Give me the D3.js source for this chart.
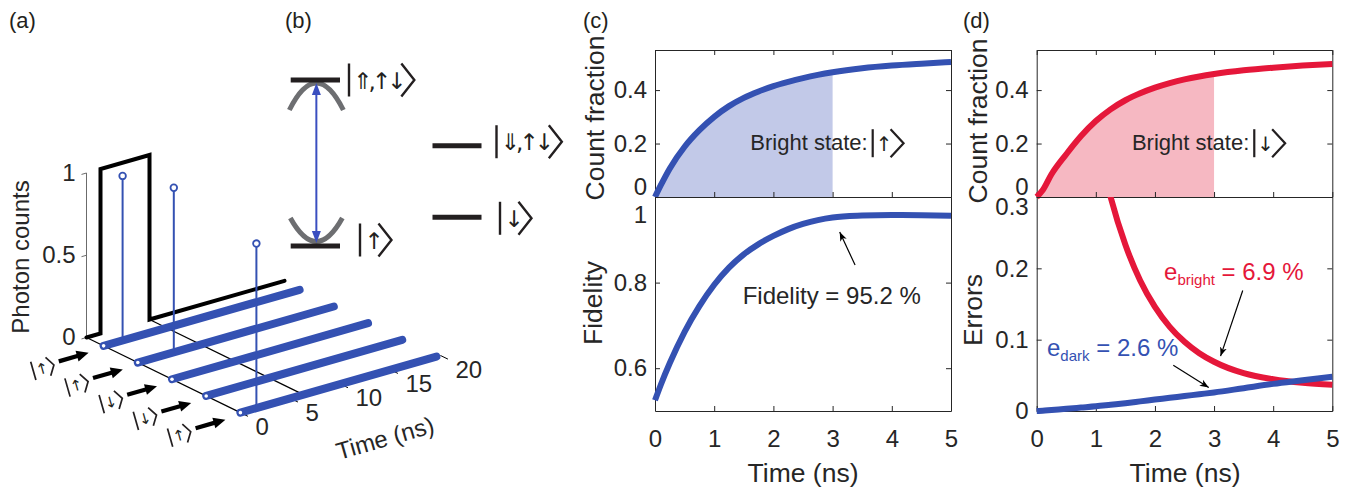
<!DOCTYPE html>
<html><head><meta charset="utf-8">
<script src="https://cdn.jsdelivr.net/npm/d3@7"></script>
<style>
html,body{margin:0;padding:0;background:#fff;}
svg{display:block;}
</style></head><body>
<svg id="fig" width="1352" height="487"></svg>
<script>
// ---------------- data ----------------
// (a) time-resolved photon counts for a sequence of prepared spin states
const rowStates = ["↑", "↑", "↓", "↓", "↑"];          // back row first
const pulseTime = [0, 1.4, 1.4, 6.3, 6.3, 19.8];     // ns, optical pulse trace
const pulseCounts = [0, 0, 1, 1, 0, 0];
const photonStems = [                                  // detected photons
  {row: 1, t: 1.9, counts: 1},
  {row: 2, t: 3.6, counts: 1},
  {row: 5, t: 1.6, counts: 1}
];
const rowEndTime = 19.6;
const floorGuides = [0, 6.3];
const timeTicksA = [0, 5, 10, 15, 20];
const countTicksA = [0, 0.5, 1];

// (b) energy levels
const levels = [
  {inner: "⇑,↑↓", energy: 1.0,   col: 0},
  {inner: "⇓,↑↓", energy: 0.604, col: 1},
  {inner: "↓",     energy: 0.173, col: 1},
  {inner: "↑",     energy: 0.0,   col: 0}
];

// (c),(d) readout curves vs integration time
const timeGrid      = [0, 0.1, 0.25, 0.5, 0.75, 1, 1.25, 1.5, 1.75, 2, 2.25, 2.5, 2.75, 3, 3.5, 4, 4.5, 5];
const countFracUp   = [0, 0.045, 0.107, 0.188, 0.25, 0.30, 0.34, 0.371, 0.395, 0.415, 0.431, 0.445, 0.457, 0.467, 0.482, 0.492, 0.499, 0.505];
const countFracDown = [0, 0.025, 0.085, 0.16, 0.228, 0.284, 0.328, 0.362, 0.388, 0.409, 0.426, 0.44, 0.451, 0.46, 0.474, 0.484, 0.492, 0.498];
const fidelity      = [0.525, 0.562, 0.612, 0.685, 0.745, 0.795, 0.835, 0.866, 0.890, 0.909, 0.925, 0.937, 0.946, 0.952, 0.9565, 0.958, 0.9575, 0.956];
const errBright     = [null, null, null, null, null, 0.389, 0.30, 0.233, 0.183, 0.146, 0.118, 0.097, 0.081, 0.069, 0.053, 0.0445, 0.0395, 0.0367];
const errDark       = [0, 0.0005, 0.0015, 0.003, 0.0048, 0.0066, 0.0088, 0.011, 0.0135, 0.016, 0.0185, 0.021, 0.0235, 0.026, 0.032, 0.038, 0.043, 0.048];
const readoutWindow = 3;      // ns, shaded integration window
const xTicksCD = [0, 1, 2, 3, 4, 5];
const yTicksCount = [0, 0.2, 0.4];
const yTicksFid = [0.6, 0.8, 1];
const yTicksErr = [0, 0.1, 0.2, 0.3];
const fidelityNote = "Fidelity = 95.2 %";
const eBrightNote = "6.9 %";
const eDarkNote = "2.6 %";

// ---------------- style ----------------
const INK = "#231f20", AX = "#262626";
const BLUE = "#3451b2", RED = "#e5173a", BLUE_FILL = "#c2c9e8", RED_FILL = "#f6b8c2";
const SANS = '"Liberation Sans", Arial, Helvetica, sans-serif';
const SYM = '"DejaVu Sans", sans-serif';

const svg = d3.select("#fig").attr("font-family", SANS);

const defs = svg.append("defs");
defs.append("marker").attr("id", "ah").attr("markerUnits", "userSpaceOnUse")
  .attr("markerWidth", 10).attr("markerHeight", 8).attr("refX", 9).attr("refY", 4)
  .attr("orient", "auto")
  .append("path").attr("d", "M0,0.5L9,4L0,7.5L2.5,4Z").attr("fill", "#000");

// ket |...> drawn as bar + symbols + chevron
function ket(parent, inner, o) {
  const outer = parent.append("g")
    .attr("transform", `translate(${o.x},${o.y})` + (o.rotate ? ` rotate(${o.rotate})` : ""));
  const g = outer.append("g");
  const h = o.h, sw = o.sw || 2.2, gap = o.gap || 4, cw = o.cw || h * 0.38;
  const col = o.color || INK;
  const txt = g.append("text").attr("x", gap + sw / 2).attr("y", o.font * (o.base || 0.36))
    .attr("font-size", o.font).attr("font-family", SYM).attr("fill", col)
    .attr("letter-spacing", o.ls || 0).text(inner);
  const w = txt.node().getComputedTextLength() + (o.ls || 0);
  g.append("line").attr("x1", 0).attr("x2", 0).attr("y1", -h / 2).attr("y2", h / 2)
    .attr("stroke", col).attr("stroke-width", sw);
  const cx = gap + sw / 2 + w + (o.gap2 || gap);
  g.append("path").attr("d", `M${cx},${-h / 2}L${cx + cw},0L${cx},${h / 2}`)
    .attr("fill", "none").attr("stroke", col).attr("stroke-width", sw).attr("stroke-linejoin", "miter");
  const total = cx + cw;
  if (o.anchor === "middle") g.attr("transform", `translate(${-total / 2},0)`);
  return total;
}

// panel letters
[["(a)", 9], ["(b)", 285], ["(c)", 583], ["(d)", 963]].forEach(([s, x]) => {
  svg.append("text").attr("x", x).attr("y", 28).attr("font-size", 22).attr("fill", INK).text(s);
});

// ================= (a) =================
const gA = svg.append("g");
const origin = [86.5, 337.5];
const tX = d3.scaleLinear().domain([0, 20]).range([0, 200]);
const tY = d3.scaleLinear().domain([0, 20]).range([0, -57.2]);
const dX = d3.scaleLinear().domain([0.5, 5]).range([0, 153.9]);
const dY = d3.scaleLinear().domain([0.5, 5]).range([0, 75.15]);
const zY = d3.scaleLinear().domain([0, 1]).range([0, -164.5]);
const P = (t, d, z) => [origin[0] + tX(t) + dX(d), origin[1] + tY(t) + dY(d) + zY(z)];
const tilt = Math.atan2(tY(1), tX(1)) * 180 / Math.PI;

// vertical photon-count axis on the back wall
gA.append("line").attr("x1", P(0, 0.5, 0)[0]).attr("y1", P(0, 0.5, 0)[1])
  .attr("x2", P(0, 0.5, 1)[0]).attr("y2", P(0, 0.5, 1)[1]).attr("stroke", "#6b6b6b").attr("stroke-width", 1);
countTicksA.forEach(c => {
  const a = P(0, 0.5, c), b = P(-0.5, 0.5, c), l = P(-0.8, 0.5, c);
  gA.append("line").attr("x1", a[0]).attr("y1", a[1]).attr("x2", b[0]).attr("y2", b[1]).attr("stroke", "#6b6b6b");
  gA.append("text").attr("x", l[0] - 3).attr("y", l[1] - 3).attr("dy", "0.35em").attr("text-anchor", "end")
    .attr("font-size", 24).attr("fill", AX).text(String(c));
});
gA.append("text").attr("transform", "translate(21,257) rotate(-90)").attr("text-anchor", "middle")
  .attr("dy", "0.35em").attr("font-size", 24).attr("fill", AX).text("Photon counts");

// floor guide lines
floorGuides.forEach(t => {
  const a = P(t, 0.5, 0), b = P(t, 5, 0);
  gA.append("line").attr("x1", a[0]).attr("y1", a[1]).attr("x2", b[0]).attr("y2", b[1])
    .attr("stroke", "#000").attr("stroke-width", 1.2);
});

// pulse trace on back wall
const pulseLine = d3.line().x(i => P(pulseTime[i], 0.5, pulseCounts[i])[0]).y(i => P(pulseTime[i], 0.5, pulseCounts[i])[1]);
gA.append("path").attr("d", pulseLine(d3.range(pulseTime.length))).attr("fill", "none")
  .attr("stroke", "#000").attr("stroke-width", 4).attr("stroke-linejoin", "miter").attr("stroke-linecap", "round");

// time axis ticks along the front edge
timeTicksA.forEach(t => {
  const a = P(t, 5, 0), b = P(t, 5.22, 0);
  gA.append("line").attr("x1", a[0]).attr("y1", a[1]).attr("x2", b[0]).attr("y2", b[1]).attr("stroke", "#000");
  gA.append("text").attr("x", a[0] + 15).attr("y", a[1] + 14).attr("dy", "0.35em")
    .attr("font-size", 24).attr("fill", AX).text(String(t));
});
gA.append("text").attr("transform", `translate(385,438) rotate(${tilt})`).attr("text-anchor", "middle")
  .attr("dy", "0.35em").attr("font-size", 24).attr("fill", AX).text("Time (ns)");

// rows, stems, state labels
rowStates.forEach((s, i) => {
  const d = i + 1;
  const a = P(0, d, 0), b = P(rowEndTime, d, 0);
  gA.append("line").attr("x1", a[0]).attr("y1", a[1]).attr("x2", b[0]).attr("y2", b[1])
    .attr("stroke", BLUE).attr("stroke-width", 8).attr("stroke-linecap", "round");
  gA.append("circle").attr("cx", a[0]).attr("cy", a[1]).attr("r", 1.8).attr("fill", "#fff");
  photonStems.filter(p => p.row === d).forEach(p => {
    const s0 = P(p.t, d, 0), s1 = P(p.t, d, p.counts);
    gA.append("line").attr("x1", s0[0]).attr("y1", s0[1]).attr("x2", s1[0]).attr("y2", s1[1])
      .attr("stroke", BLUE).attr("stroke-width", 2);
    gA.append("circle").attr("cx", s1[0]).attr("cy", s1[1]).attr("r", 3.3)
      .attr("fill", "#fff").attr("stroke", BLUE).attr("stroke-width", 1.8);
  });
  // input arrow
  const tip = [a[0] - 15, a[1] + 7];
  const ga = gA.append("g").attr("transform", `translate(${tip[0]},${tip[1]}) rotate(${tilt})`);
  ga.append("line").attr("x1", -31).attr("y1", 0).attr("x2", -9).attr("y2", 0)
    .attr("stroke", "#000").attr("stroke-width", 4.2);
  ga.append("path").attr("d", "M0,0L-12,-5.5L-12,5.5Z").attr("fill", "#000");
  // state label
  ket(gA, s, {x: a[0] - 60, y: a[1] + 22, h: 19, font: 15, sw: 1.7, gap: 2, cw: 6,
              rotate: tilt, anchor: "middle", base: 0.38, ls: -1});
});

// ================= (b) =================
const gB = svg.append("g");
const levelY = d3.scaleLinear().domain([0, 1]).range([246, 80]);
const colBars = [[290.7, 340], [432.5, 481.5]];
const ketOffset = [ // x gap after bar, y shift of ket centre
  {dx: 9, dy: 0}, {dx: 15, dy: -4}, {dx: 18.5, dy: 1}, {dx: 20, dy: -6}
];
// trap curvature arcs
const xMid = (colBars[0][0] + colBars[0][1]) / 2 + 1;
const yUp = levelY(1), yLo = levelY(0);
gB.append("path").attr("d", `M${xMid - 27},${yUp + 30}Q${xMid},${yUp - 24} ${xMid + 27},${yUp + 30}`)
  .attr("fill", "none").attr("stroke", "#6d6e71").attr("stroke-width", 5);
gB.append("path").attr("d", `M${xMid - 26},${yLo - 28}Q${xMid},${yLo + 19} ${xMid + 26},${yLo - 28}`)
  .attr("fill", "none").attr("stroke", "#6d6e71").attr("stroke-width", 5);
// optical transition
gB.append("line").attr("x1", xMid).attr("x2", xMid).attr("y1", yUp + 12).attr("y2", yLo - 12)
  .attr("stroke", "#3a4fc0").attr("stroke-width", 2);
gB.append("path").attr("d", `M${xMid},${yUp + 3}L${xMid - 4.5},${yUp + 15}L${xMid + 4.5},${yUp + 15}Z`).attr("fill", "#3a4fc0");
gB.append("path").attr("d", `M${xMid},${yLo - 3}L${xMid - 4.5},${yLo - 15}L${xMid + 4.5},${yLo - 15}Z`).attr("fill", "#3a4fc0");
levels.forEach((lv, i) => {
  const [x0, x1] = colBars[lv.col];
  const y = levelY(lv.energy);
  gB.append("line").attr("x1", x0).attr("x2", x1).attr("y1", y).attr("y2", y)
    .attr("stroke", INK).attr("stroke-width", 5);
  ket(gB, lv.inner, {x: x1 + ketOffset[i].dx, y: y + ketOffset[i].dy, h: 33, font: 23, sw: 2.4, gap: 3, cw: 13,
                     base: 0.38, ls: -4});
});

// ================= (c) & (d) =================
const xC = d3.scaleLinear().domain([0, 5]).range([655, 951]);
const xD = d3.scaleLinear().domain([0, 5]).range([1036.7, 1332.3]);
const yTop = d3.scaleLinear().domain([0, 0.55]).range([197, 50]);
const yFid = d3.scaleLinear().domain([0.5, 1]).range([411, 197]);
const yErr = d3.scaleLinear().domain([0, 0.3]).range([411, 197]);

function styleAxis(sel) {
  sel.attr("font-family", SANS).attr("font-size", 24).attr("color", AX);
  sel.selectAll("path,line").attr("stroke", AX).attr("stroke-width", 1);
}
function box(g, x, y, yTicks, opts) {
  const [x0, x1] = x.range(), [yb, yt] = y.range();
  const L = g.append("g").attr("transform", `translate(${x0},0)`)
    .call(d3.axisLeft(y).tickValues(yTicks).tickFormat(d => String(d)).tickSizeInner(-5).tickSizeOuter(0).tickPadding(8));
  styleAxis(L);
  if (opts.shiftLabel) L.selectAll(".tick text").filter(d => d === opts.shiftLabel.v)
    .attr("transform", `translate(0,${opts.shiftLabel.dy})`);
  styleAxis(g.append("g").attr("transform", `translate(${x1},0)`)
    .call(d3.axisRight(y).tickValues(yTicks).tickFormat("").tickSizeInner(-5).tickSizeOuter(0)));
  const T = g.append("g").attr("transform", `translate(0,${yt})`)
    .call(d3.axisTop(x).tickValues(opts.topTicks ? xTicksCD : []).tickFormat("").tickSizeInner(-5).tickSizeOuter(0));
  styleAxis(T);
  const B = g.append("g").attr("transform", `translate(0,${yb})`)
    .call(d3.axisBottom(x).tickValues(xTicksCD).tickFormat(opts.xLabels ? (d => String(d)) : "")
      .tickSizeInner(-5).tickSizeOuter(0).tickPadding(19));
  styleAxis(B);
}

function countPanel(g, x, values, color, fill, ket1) {
  const idx = d3.range(timeGrid.length);
  const win = idx.filter(i => timeGrid[i] <= readoutWindow);
  g.append("path").attr("d", d3.area().x(i => x(timeGrid[i])).y0(yTop(0)).y1(i => yTop(values[i]))
      .curve(d3.curveMonotoneX)(win)).attr("fill", fill);
  box(g, x, yTop, yTicksCount, {topTicks: true, xLabels: false, shiftLabel: {v: 0, dy: -10}});
  g.append("path").attr("d", d3.line().x(i => x(timeGrid[i])).y(i => yTop(values[i])).curve(d3.curveMonotoneX)(idx))
    .attr("fill", "none").attr("stroke", color).attr("stroke-width", 6);
  const tx = x(1.61), ty = yTop(0.205);
  const t = g.append("text").attr("x", tx).attr("y", ty).attr("dy", "0.35em").attr("font-size", 22).attr("fill", AX).text("Bright state:");
  const w = t.node().getComputedTextLength();
  ket(g, ket1, {x: tx + w + 5, y: ty + 1, h: 28, font: 20, sw: 2.2, gap: 2, cw: 13, base: 0.38, ls: -2});
}

// (c)
const gC = svg.append("g");
countPanel(gC, xC, countFracUp, BLUE, BLUE_FILL, "↑");
box(gC, xC, yFid, yTicksFid, {topTicks: false, xLabels: true, shiftLabel: {v: 1, dy: 18}});
gC.append("path").attr("d", d3.line().x(i => xC(timeGrid[i])).y(i => yFid(fidelity[i])).curve(d3.curveMonotoneX)(d3.range(timeGrid.length)))
  .attr("fill", "none").attr("stroke", BLUE).attr("stroke-width", 6);
gC.append("line").attr("x1", xC(3.38)).attr("y1", yFid(0.841)).attr("x2", xC(3.12)).attr("y2", yFid(0.918))
  .attr("stroke", "#000").attr("stroke-width", 1.2).attr("marker-end", "url(#ah)");
gC.append("text").attr("x", xC(2.985)).attr("y", yFid(0.769)).attr("dy", "0.35em").attr("text-anchor", "middle")
  .attr("font-size", 24).attr("fill", AX).text(fidelityNote);
gC.append("text").attr("transform", "translate(595,118) rotate(-90)").attr("text-anchor", "middle").attr("dy", "0.35em")
  .attr("font-size", 26.5).attr("fill", AX).text("Count fraction");
gC.append("text").attr("transform", "translate(593,303) rotate(-90)").attr("text-anchor", "middle").attr("dy", "0.35em")
  .attr("font-size", 26.5).attr("fill", AX).text("Fidelity");
gC.append("text").attr("x", 803).attr("y", 473).attr("dy", "0.35em").attr("text-anchor", "middle")
  .attr("font-size", 26.5).attr("fill", AX).text("Time (ns)");

// (d)
const gD = svg.append("g");
countPanel(gD, xD, countFracDown, RED, RED_FILL, "↓");
box(gD, xD, yErr, yTicksErr, {topTicks: false, xLabels: true, shiftLabel: {v: 0.3, dy: 10}});
defs.append("clipPath").attr("id", "errClip").append("rect")
  .attr("x", xD(0) - 10).attr("y", yErr(0.3)).attr("width", xD(5) - xD(0) + 20).attr("height", yErr(0) - yErr(0.3) + 10);
const errIdx = d3.range(timeGrid.length);
gD.append("path").attr("clip-path", "url(#errClip)")
  .attr("d", d3.line().defined(i => errBright[i] !== null).x(i => xD(timeGrid[i])).y(i => yErr(errBright[i])).curve(d3.curveMonotoneX)(errIdx))
  .attr("fill", "none").attr("stroke", RED).attr("stroke-width", 6);
gD.append("path")
  .attr("d", d3.line().x(i => xD(timeGrid[i])).y(i => yErr(errDark[i])).curve(d3.curveMonotoneX)(errIdx))
  .attr("fill", "none").attr("stroke", BLUE).attr("stroke-width", 6);
gD.append("line").attr("x1", xD(3.485)).attr("y1", yErr(0.169)).attr("x2", xD(3.11)).attr("y2", yErr(0.077))
  .attr("stroke", "#000").attr("stroke-width", 1.2).attr("marker-end", "url(#ah)");
gD.append("line").attr("x1", xD(2.31)).attr("y1", yErr(0.064)).attr("x2", xD(2.91)).attr("y2", yErr(0.033))
  .attr("stroke", "#000").attr("stroke-width", 1.2).attr("marker-end", "url(#ah)");
function eLabel(g, x, y, sub, val, color) {
  const t = g.append("text").attr("x", x).attr("y", y).attr("font-size", 24).attr("fill", color);
  t.append("tspan").text("e");
  t.append("tspan").attr("font-size", 15).attr("dy", 5).text(sub);
  t.append("tspan").attr("dy", -5).text(" = " + val);
}
eLabel(gD, xD(2.154), yErr(0.183), "bright", eBrightNote, RED);
eLabel(gD, xD(0.174), yErr(0.077), "dark", eDarkNote, BLUE);
gD.append("text").attr("transform", "translate(978,121) rotate(-90)").attr("text-anchor", "middle").attr("dy", "0.35em")
  .attr("font-size", 26.5).attr("fill", AX).text("Count fraction");
gD.append("text").attr("transform", "translate(973,310) rotate(-90)").attr("text-anchor", "middle").attr("dy", "0.35em")
  .attr("font-size", 26.5).attr("fill", AX).text("Errors");
gD.append("text").attr("x", 1185).attr("y", 473).attr("dy", "0.35em").attr("text-anchor", "middle")
  .attr("font-size", 26.5).attr("fill", AX).text("Time (ns)");
</script>
</body></html>
